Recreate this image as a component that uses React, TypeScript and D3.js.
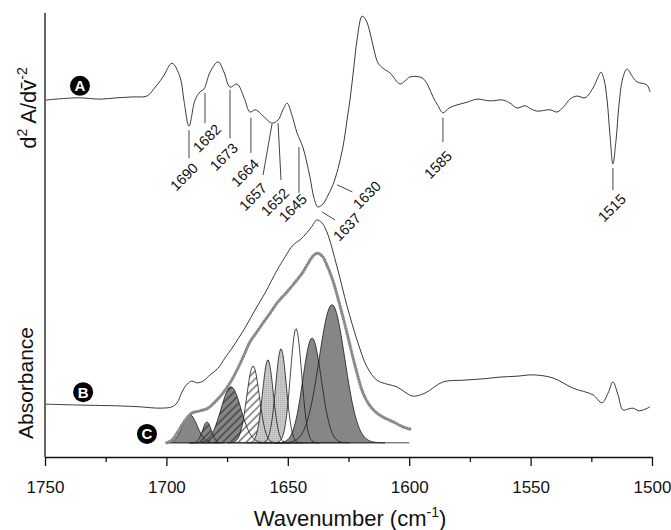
import React, { useRef, useEffect } from "react"
import * as d3 from "d3"

// A: second derivative spectrum (wavenumber, arbitrary units)
const derivWn = [1749.6, 1736.4, 1727.3, 1720.3, 1713.8, 1708, 1705.5, 1701.4, 1697.7, 1694.4,
  1692.8, 1690.7, 1688.2, 1686.2, 1684.5, 1682, 1678.7, 1676.3, 1673.8, 1670.9,
  1668, 1665.6, 1663.5, 1662.3, 1659.4, 1656.5, 1654, 1652, 1650.3, 1648.3,
  1646.2, 1643.7, 1640.9, 1639.2, 1637.6, 1635.5, 1633.4, 1631.4, 1629.3, 1627.3,
  1625.6, 1624.4, 1622.7, 1621.5, 1619.4, 1617.8, 1616.1, 1614.5, 1612.8, 1610.4,
  1607.9, 1603.8, 1601.7, 1599.7, 1594.7, 1592.2, 1590.2, 1588.1, 1586.1, 1583.6,
  1580.3, 1576.2, 1572.1, 1566.7, 1561.4, 1558.5, 1555.6, 1552.3, 1549.8, 1547.4,
  1542, 1539.1, 1536.2, 1533.8, 1530.9, 1527.6, 1524.3, 1522.2, 1521, 1519.7,
  1518.5, 1517.3, 1516.1, 1514.8, 1513.6, 1512, 1510.3, 1508.2, 1506.2, 1502.1, 1500.8]
const derivVal = [80.4, 80.9, 80.6, 80.9, 81.1, 81.3, 82.7, 85.6, 88.7, 85.6,
  80.4, 74.5, 80.4, 82.2, 82.9, 86.7, 89, 86.7, 83.3, 84,
  80.9, 77.7, 78.2, 77.9, 76.4, 75.2, 75.9, 78.2, 79.7, 77,
  73, 69.6, 63.1, 58.3, 56.3, 57, 59, 61.3, 65, 69.8,
  75.9, 80.4, 88.3, 93.9, 99.3, 98.4, 95.5, 91.7, 88.7, 87.4,
  86.5, 84, 84.7, 85.6, 85.4, 83.6, 81.1, 79.1, 77.5, 78.6,
  79.3, 79.9, 80.6, 80.2, 80.4, 79.7, 78.6, 79.1, 78.4, 77.9,
  78.2, 77.7, 79, 80.6, 81.3, 80.9, 83.1, 85.6, 86.7, 84.9,
  80.4, 72.5, 66, 71.4, 79.3, 85.4, 87.4, 85.8, 84.5, 83.8, 82.2]

// B: absorbance spectrum
const absWn = [1749.6, 1735.6, 1719.1, 1710.9, 1702.6, 1697.7, 1695.6, 1693.6, 1691.5, 1689.5,
  1687.4, 1684.9, 1682, 1678.7, 1675.9, 1673, 1667.6, 1663.5, 1659.4, 1654.4,
  1651.2, 1647.9, 1645, 1642.1, 1640, 1638, 1635.9, 1633.9, 1629.7, 1625.6,
  1621.5, 1617.4, 1613.3, 1609.1, 1605, 1601.7, 1598.4, 1593.5, 1586.1, 1577.8,
  1569.6, 1562.6, 1555.6, 1549, 1540.8, 1532.5, 1524.3, 1520.6, 1518.1, 1516.1,
  1514, 1512, 1509.9, 1507.9, 1505.1, 1500.8]
const absVal = [11.9, 11.7, 11.5, 11.3, 11.0, 11.3, 12.2, 14.6, 16.4, 17.1,
  16.7, 17.1, 18.5, 20.0, 22.3, 24.5, 29.1, 33.1, 36.9, 42.1,
  45.0, 47.7, 48.9, 50.5, 52.0, 53.4, 52.7, 50.7, 42.8, 34.0,
  26.4, 20.3, 17.3, 16.4, 15.8, 14.6, 13.7, 14.4, 16.9, 17.3,
  17.6, 18.0, 18.2, 18.5, 17.8, 15.5, 14.0, 12.2, 14.4, 16.9,
  14.0, 10.6, 10.8, 11.0, 10.4, 11.3]

// C: fitted curve (dotted) and its band components
const fitWn = [1699.8, 1697.7, 1695.6, 1693.6, 1691.5, 1689.5, 1686.2, 1682.9, 1680, 1676.7,
  1673.8, 1670.9, 1668, 1665.6, 1662.7, 1660.2, 1657.3, 1654.4, 1650.3, 1646.2,
  1643.7, 1642.1, 1640, 1638, 1635.9, 1633.9, 1631.8, 1629.7, 1627.7, 1625.6,
  1623.6, 1621.5, 1619, 1616.1, 1613.3, 1610.8, 1605.8, 1602.6, 1599.7]
const fitVal = [3.2, 3.8, 5.4, 7.2, 8.8, 9.9, 10.4, 11.0, 12.4, 14.4,
  16.7, 19.6, 23.0, 25.9, 28.2, 30.2, 32.4, 34.7, 37.2, 39.9,
  41.7, 43.2, 45.0, 45.9, 45.3, 43.2, 40.3, 36.5, 32.4, 27.9,
  23.4, 18.9, 14.4, 11.5, 9.9, 9.0, 7.7, 6.8, 6.3]

const compCenter = [1690.3, 1683.3, 1673.4, 1664.3, 1658.2, 1652.8, 1646.6, 1640.0, 1631.8]
const compHeight = [6.3, 4.7, 12.6, 17.3, 18.7, 21.2, 25.7, 23.6, 31.1]
const compSigma = [3.0, 1.8, 4.1, 2.6, 2.2, 2.2, 2.3, 3.8, 5.3]
const compBase = 3.2
const compRange = [1700, 1600]
const compFill = ["#868686", "url(#hatchDark)", "url(#hatchDark)", "url(#hatchWhite)",
  "url(#grid)", "url(#grid)", "#ffffff", "#868686", "#868686"]

// peak annotations on trace A: tick from -> to, label centre
const peakText = ["1690", "1682", "1673", "1664", "1657", "1652", "1645", "1637", "1630", "1585", "1515"]
const peakFrom = [[1690.7, 73.6], [1684.1, 82.0], [1673.8, 82.7], [1665.2, 76.4], [1656.5, 75.0],
  [1654.0, 75.2], [1645.4, 69.8], [1635.9, 55.2], [1629.7, 61.3], [1586.1, 76.4], [1516.1, 65.1]]
const peakTo = [[1690.7, 67.3], [1684.1, 75.2], [1673.8, 71.8], [1665.2, 68.5], [1660.2, 63.5],
  [1652.8, 62.4], [1645.4, 59.5], [1630.6, 53.4], [1623.4, 59.7], [1586.1, 70.9], [1516.1, 60.1]]
const peakLabelAt = [[1692.7, 63.1], [1683.3, 71.8], [1676.3, 67.6], [1667.6, 64.0], [1664.3, 58.6],
  [1655.3, 57.4], [1647.9, 56.1], [1625.6, 51.8], [1617.4, 59.0], [1588.1, 65.8], [1516.5, 56.1]]

const badgeText = ["A", "B", "C"]
const badgeAt = [[1735.6, 83.6], [1734.3, 14.6], [1708, 5.2]]

const majorTicks = [1750, 1700, 1650, 1600, 1550, 1500]
const minorTicks = [1725, 1675, 1625, 1575, 1525]

export default function App() {
  const el = useRef<SVGSVGElement>(null)

  useEffect(() => {
    const svg = d3.select(el.current)
    svg.selectAll("*").remove()
    const font = "'Liberation Sans', Arial, Helvetica, sans-serif"

    const x = d3.scaleLinear().domain([1750, 1500]).range([45, 652])
    const y = d3.scaleLinear().domain([0, 100]).range([457, 13])

    // fill patterns for the components
    const defs = svg.append("defs")
    const hatch = (id: string, bg: string) => {
      const p = defs.append("pattern").attr("id", id)
        .attr("patternUnits", "userSpaceOnUse")
        .attr("width", 5.5).attr("height", 5.5)
        .attr("patternTransform", "rotate(45)")
      p.append("rect").attr("width", 5.5).attr("height", 5.5).attr("fill", bg)
      p.append("line").attr("x1", 2.75).attr("x2", 2.75).attr("y1", 0).attr("y2", 5.5)
        .attr("stroke", "#1a1a1a").attr("stroke-width", 0.9)
    }
    hatch("hatchDark", "#868686")
    hatch("hatchWhite", "#ffffff")
    const grid = defs.append("pattern").attr("id", "grid")
      .attr("patternUnits", "userSpaceOnUse").attr("width", 2).attr("height", 2)
    grid.append("rect").attr("width", 2).attr("height", 2).attr("fill", "#d4d4d4")
    grid.append("path").attr("d", "M0 0.5H2M0.5 0V2")
      .attr("stroke", "#b2b2b2").attr("stroke-width", 0.6)

    const trace = (wn: number[], val: number[]) =>
      d3.line<number>()
        .x(i => x(wn[i]))
        .y(i => y(val[i]))
        .curve(d3.curveCatmullRom.alpha(0.5))(d3.range(wn.length))

    // components
    const grid1 = d3.range(compRange[1], compRange[0] + 0.01, 0.5)
    const areas = compCenter.map((c, k) =>
      d3.area<number>()
        .x(w => x(w))
        .y0(y(compBase))
        .y1(w => y(compBase + compHeight[k] * Math.exp(-0.5 * ((w - c) / compSigma[k]) ** 2)))
        (grid1.filter(w => Math.abs(w - c) < compSigma[k] * 4.2)))
    const gc = svg.append("g")
    areas.forEach((d, k) => gc.append("path").attr("d", d).attr("fill", compFill[k]).attr("stroke", "none"))
    areas.forEach(d => gc.append("path").attr("d", d).attr("fill", "none")
      .attr("stroke", "#1a1a1a").attr("stroke-width", 0.8))
    gc.append("line")
      .attr("x1", x(compRange[0])).attr("x2", x(compRange[1]))
      .attr("y1", y(compBase)).attr("y2", y(compBase))
      .attr("stroke", "#333").attr("stroke-width", 0.9)

    // fitted curve, dotted
    svg.append("path").attr("d", trace(fitWn, fitVal))
      .attr("fill", "none").attr("stroke", "#8a8a8a").attr("stroke-width", 3.4)
      .attr("stroke-linecap", "round").attr("stroke-dasharray", "0 2.6")

    // spectra
    svg.append("path").attr("d", trace(derivWn, derivVal))
      .attr("fill", "none").attr("stroke", "#3a3a3a").attr("stroke-width", 1)
    svg.append("path").attr("d", trace(absWn, absVal))
      .attr("fill", "none").attr("stroke", "#3a3a3a").attr("stroke-width", 1)

    // peak marks
    const gp = svg.append("g")
    peakText.forEach((t, k) => {
      gp.append("line")
        .attr("x1", x(peakFrom[k][0])).attr("y1", y(peakFrom[k][1]))
        .attr("x2", x(peakTo[k][0])).attr("y2", y(peakTo[k][1]))
        .attr("stroke", "#444").attr("stroke-width", 1)
      gp.append("text")
        .attr("transform", `translate(${x(peakLabelAt[k][0])},${y(peakLabelAt[k][1])}) rotate(-45)`)
        .attr("text-anchor", "middle").attr("dominant-baseline", "central")
        .attr("font-family", font).attr("font-size", 14.5).attr("fill", "#111")
        .text(t)
    })

    // badges
    badgeText.forEach((t, k) => {
      const g = svg.append("g")
        .attr("transform", `translate(${x(badgeAt[k][0])},${y(badgeAt[k][1])})`)
      g.append("circle").attr("r", 10).attr("fill", "#000")
      g.append("text").attr("text-anchor", "middle").attr("dy", "0.36em")
        .attr("font-family", font).attr("font-weight", "bold").attr("font-size", 15)
        .attr("fill", "#fff").text(t)
    })

    // axes
    const gx = svg.append("g").attr("transform", `translate(0,${y(0)})`)
    gx.call(d3.axisBottom(x).tickValues(majorTicks).tickSize(9).tickSizeOuter(0)
      .tickPadding(15).tickFormat(d3.format("d")))
    gx.attr("font-family", font).attr("font-size", 17)
    gx.selectAll("text").attr("fill", "#111")
    gx.selectAll("line,path").attr("stroke", "#111").attr("stroke-width", 1.3)
    const gm = svg.append("g").attr("transform", `translate(0,${y(0)})`)
    gm.call(d3.axisBottom(x).tickValues(minorTicks).tickSize(5).tickFormat(() => ""))
    gm.select(".domain").remove()
    gm.selectAll("line").attr("stroke", "#111").attr("stroke-width", 1.3)
    svg.append("line")
      .attr("x1", x(1750)).attr("x2", x(1750)).attr("y1", y(100)).attr("y2", y(0))
      .attr("stroke", "#111").attr("stroke-width", 1.3)

    // axis titles
    const xt = svg.append("text").attr("x", 350).attr("y", 526).attr("text-anchor", "middle")
      .attr("font-family", font).attr("font-size", 22).attr("fill", "#111")
    xt.append("tspan").text("Wavenumber (cm")
    xt.append("tspan").attr("font-size", 14).attr("dy", -9).text("-1")
    xt.append("tspan").attr("dy", 9).text(")")

    const yt = svg.append("text").attr("transform", "translate(36,108) rotate(-90)")
      .attr("text-anchor", "middle").attr("font-family", font).attr("font-size", 22).attr("fill", "#111")
    yt.append("tspan").text("d")
    yt.append("tspan").attr("font-size", 14).attr("dy", -9).text("2")
    yt.append("tspan").attr("dy", 9).text(" A/d")
    yt.append("tspan").text("v\u0304")
    yt.append("tspan").attr("font-size", 14).attr("dy", -9).text("-2")

    svg.append("text").attr("transform", "translate(33,383) rotate(-90)")
      .attr("text-anchor", "middle").attr("font-family", font).attr("font-size", 21).attr("fill", "#111")
      .text("Absorbance")
  }, [])

  return (
    <svg ref={el} width={671} height={530}
      style={{ position: "absolute", left: 0, top: 0, background: "#fff" }} />
  )
}
